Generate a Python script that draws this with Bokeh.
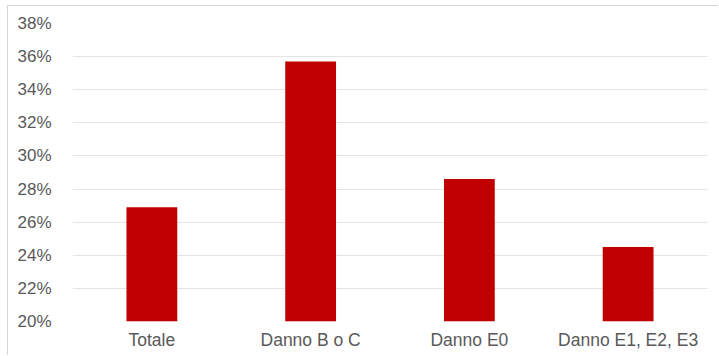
from bokeh.plotting import figure
from bokeh.models import FactorRange, Range1d, FixedTicker, NumeralTickFormatter
from bokeh.embed import file_html
from bokeh.resources import INLINE

# Share of cases per damage class
categories = ["Totale", "Danno B o C", "Danno E0", "Danno E1, E2, E3"]
shares = [0.269, 0.357, 0.286, 0.245]
y_ticks = [0.20, 0.22, 0.24, 0.26, 0.28, 0.30, 0.32, 0.34, 0.36, 0.38]

FONT = "Liberation Sans"
LABEL_GREY = "#595959"

p = figure(
    x_range=FactorRange(*categories, range_padding=0),
    y_range=Range1d(y_ticks[0], y_ticks[-1]),
    width=711, height=350,
    margin=(5, 0, 0, 7),
    min_border_left=64, min_border_right=12,
    min_border_top=17, min_border_bottom=35,
    output_backend="svg", toolbar_location=None,
    styles={"border-top": "1px solid #d6d6d6", "border-left": "1px solid #d6d6d6"},
)
p.outline_line_color = None
p.background_fill_color = "white"
p.border_fill_color = "white"

p.vbar(x=categories, top=shares, bottom=y_ticks[0], width=0.32,
       fill_color="#C00000", line_color=None)

p.xgrid.grid_line_color = None
p.ygrid.grid_line_color = "#e4e4e4"
p.ygrid.grid_line_width = 1

p.yaxis.ticker = FixedTicker(ticks=y_ticks)
p.yaxis.formatter = NumeralTickFormatter(format="0%")

for ax in (p.xaxis[0], p.yaxis[0]):
    ax.axis_line_color = None
    ax.major_tick_line_color = None
    ax.minor_tick_line_color = None
    ax.major_label_text_font = FONT
    ax.major_label_text_color = LABEL_GREY

p.yaxis.major_label_text_font_size = "17px"
p.xaxis.major_label_text_font_size = "17.5px"
p.yaxis.major_label_standoff = 15
p.xaxis.major_label_standoff = 2

open("out.html", "w").write(file_html(p, INLINE))
